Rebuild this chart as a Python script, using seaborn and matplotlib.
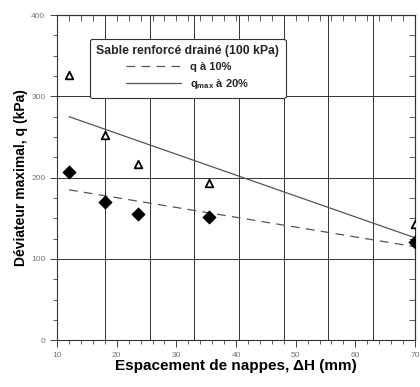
import pandas as pd
import seaborn as sns
import matplotlib.pyplot as plt
from matplotlib.ticker import MultipleLocator, NullFormatter
import warnings

warnings.filterwarnings('ignore')
sns.set_style('ticks')
plt.rcParams['font.family'] = ['Liberation Sans', 'DejaVu Sans']
plt.rcParams['mathtext.default'] = 'regular'

# points
spacing = [12, 18, 23.5, 35.5, 70]
q_max_20 = [326, 253, 217, 194, 143]
q_10 = [207, 170, 155, 151, 121]

# fitted trend lines (end points)
fit_x = [12, 70]
fit_q10 = [185, 115]
fit_qmax = [275, 126]

# vertical grid of the paper sheet
grid_x = [18, 25.5, 33, 40.5, 48, 55.5, 63]
grid_y = [100, 200, 300]

pts = pd.DataFrame({'dh': spacing, 'qmax': q_max_20, 'q10': q_10})
fits = pd.DataFrame({'dh': fit_x, 'q10': fit_q10, 'qmax': fit_qmax})

fig = plt.figure(figsize=(4.2, 3.87), dpi=100)
ax = fig.add_axes([0.136, 0.121, 0.852, 0.84])

for gx in grid_x:
    ax.axvline(gx, color='#333333', lw=0.7, zorder=0)
for gy in grid_y:
    ax.axhline(gy, color='#333333', lw=0.7, zorder=0)

sns.lineplot(data=fits, x='dh', y='q10', ax=ax, color='#555555', lw=0.9,
             linestyle=(0, (7, 5)), label='q à 10%')
sns.lineplot(data=fits, x='dh', y='qmax', ax=ax, color='#555555', lw=0.9,
             label='q$_{max}$ à 20%')
sns.scatterplot(data=pts, x='dh', y='qmax', ax=ax, marker='^', s=30,
                facecolor='white', edgecolor='black', linewidth=1.3, zorder=5)
sns.scatterplot(data=pts, x='dh', y='q10', ax=ax, marker='D', s=45,
                color='black', edgecolor='black', zorder=5)

ax.set_xlim(10, 70)
ax.set_ylim(0, 400)
ax.xaxis.set_major_locator(MultipleLocator(10))
ax.xaxis.set_minor_locator(MultipleLocator(2))
ax.yaxis.set_major_locator(MultipleLocator(100))
ax.yaxis.set_minor_locator(MultipleLocator(25))
ax.tick_params(which='both', direction='out', labelsize=6, labelcolor='#777777',
               color='#444444')
ax.tick_params(which='major', length=5, width=0.7)
ax.tick_params(which='minor', length=3, width=0.6)
for side in ['top', 'right', 'left', 'bottom']:
    ax.spines[side].set_linewidth(0.8)
    ax.spines[side].set_color('#333333')

# inward ticks on top and right, like the original sheet
top = ax.secondary_xaxis('top')
top.xaxis.set_major_locator(MultipleLocator(10))
top.xaxis.set_minor_locator(MultipleLocator(2))
top.xaxis.set_major_formatter(NullFormatter())
top.tick_params(which='both', direction='in', color='#444444', length=4, width=0.6)
right = ax.secondary_yaxis('right')
right.yaxis.set_major_locator(MultipleLocator(100))
right.yaxis.set_minor_locator(MultipleLocator(25))
right.yaxis.set_major_formatter(NullFormatter())
right.tick_params(which='both', direction='in', color='#444444', length=4, width=0.6)

ax.set_xlabel('Espacement de nappes, ΔH (mm)', fontsize=11, fontweight='bold',
              labelpad=0, color='black')
ax.set_ylabel('Déviateur maximal, q (kPa)', fontsize=10, fontweight='bold',
              labelpad=2, color='black')

leg = ax.legend(title='Sable renforcé drainé (100 kPa)', loc='upper left',
                bbox_to_anchor=(0.075, 0.945), fontsize=8, title_fontsize=8.8,
                frameon=True, fancybox=True, edgecolor='#333333', handlelength=5,
                borderpad=0.6, labelspacing=0.45, framealpha=1)
leg.get_title().set_fontweight('bold')
leg.get_frame().set_linewidth(0.8)
for t in leg.get_texts():
    t.set_fontweight('bold')

plt.savefig('out.png', dpi=100)
